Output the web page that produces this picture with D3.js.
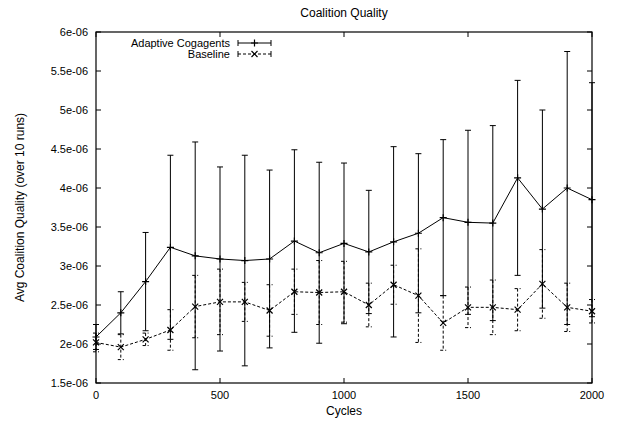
<!DOCTYPE html>
<html>
<head>
<script src="https://cdn.jsdelivr.net/npm/d3@7"></script>
<style>
  body { margin: 0; background: #fff; }
  text { font-family: "Liberation Sans", Arial, sans-serif; fill: #000; }
</style>
</head>
<body>
<svg width="617" height="423"></svg>
<script>
var cycles = [0, 100, 200, 300, 400, 500, 600, 700, 800, 900, 1000,
  1100, 1200, 1300, 1400, 1500, 1600, 1700, 1800, 1900, 2000];

// values in units of 1e-6
var adaptive = [2.09, 2.40, 2.80, 3.24, 3.13, 3.09, 3.07, 3.09, 3.32, 3.17, 3.29,
  3.18, 3.31, 3.42, 3.62, 3.56, 3.55, 4.13, 3.73, 4.00, 3.85];
var adaptiveErr = [0.16, 0.27, 0.63, 1.18, 1.46, 1.18, 1.35, 1.14, 1.17, 1.16, 1.03,
  0.79, 1.22, 1.02, 1.00, 1.18, 1.25, 1.25, 1.27, 1.75, 1.50];
var baseline = [2.02, 1.96, 2.06, 2.18, 2.48, 2.54, 2.54, 2.43, 2.67, 2.66, 2.67,
  2.50, 2.76, 2.62, 2.27, 2.47, 2.47, 2.44, 2.77, 2.47, 2.42];
var baselineErr = [0.12, 0.16, 0.08, 0.26, 0.40, 0.42, 0.25, 0.33, 0.29, 0.41, 0.39,
  0.28, 0.25, 0.60, 0.35, 0.26, 0.35, 0.27, 0.44, 0.31, 0.15];

var xTicks = [0, 500, 1000, 1500, 2000];
var yTicks = [1.5, 2, 2.5, 3, 3.5, 4, 4.5, 5, 5.5, 6];
var yTickLabels = ["1.5e-06", "2e-06", "2.5e-06", "3e-06", "3.5e-06", "4e-06",
  "4.5e-06", "5e-06", "5.5e-06", "6e-06"];

var svg = d3.select("svg");
var margin = {left: 96, right: 25, top: 32, bottom: 40};
var w = 617, h = 423;
var innerWidth = w - margin.left - margin.right;
var innerHeight = h - margin.top - margin.bottom;

var x = d3.scaleLinear().domain([0, 2000]).range([0, innerWidth]);
var y = d3.scaleLinear().domain([1.5, 6]).range([innerHeight, 0]);

var g = svg.append("g").attr("transform", `translate(${margin.left},${margin.top})`);

// ticks on all four sides, pointing inward
var tl = 5;
xTicks.forEach(function(t) {
  g.append("line").attr("x1", x(t)).attr("x2", x(t)).attr("y1", innerHeight).attr("y2", innerHeight - tl).attr("stroke", "#000");
  g.append("line").attr("x1", x(t)).attr("x2", x(t)).attr("y1", 0).attr("y2", tl).attr("stroke", "#000");
  g.append("text").attr("x", x(t)).attr("y", innerHeight + 16)
    .attr("text-anchor", "middle").style("font-size", "11px").text(t);
});
yTicks.forEach(function(t, i) {
  g.append("line").attr("x1", 0).attr("x2", tl).attr("y1", y(t)).attr("y2", y(t)).attr("stroke", "#000");
  g.append("line").attr("x1", innerWidth).attr("x2", innerWidth - tl).attr("y1", y(t)).attr("y2", y(t)).attr("stroke", "#000");
  g.append("text").attr("x", -8).attr("y", y(t) + 4)
    .attr("text-anchor", "end").style("font-size", "11px").text(yTickLabels[i]);
});

g.append("rect").attr("width", innerWidth).attr("height", innerHeight)
  .attr("fill", "none").attr("stroke", "#000").attr("stroke-width", 1.2);

function drawSeries(vals, errs, dash, marker) {
  var pts = cycles.map(function(c, i) { return {c: c, v: vals[i], e: errs[i]}; });
  var eb = g.append("g").attr("stroke", "#000").attr("stroke-width", 1)
    .attr("stroke-dasharray", dash);
  pts.forEach(function(d) {
    var cx = x(d.c), y1 = y(d.v + d.e), y2 = y(d.v - d.e);
    eb.append("line").attr("x1", cx).attr("x2", cx).attr("y1", y1).attr("y2", y2);
    eb.append("line").attr("x1", cx - 3).attr("x2", cx + 3).attr("y1", y1).attr("y2", y1).attr("stroke-dasharray", null);
    eb.append("line").attr("x1", cx - 3).attr("x2", cx + 3).attr("y1", y2).attr("y2", y2).attr("stroke-dasharray", null);
  });
  g.append("path").datum(pts)
    .attr("fill", "none").attr("stroke", "#000").attr("stroke-width", 1)
    .attr("stroke-dasharray", dash)
    .attr("d", d3.line().x(d => x(d.c)).y(d => y(d.v)));
  pts.forEach(function(d) { marker(g, x(d.c), y(d.v)); });
}

function plus(sel, cx, cy) {
  sel.append("path").attr("d", `M${cx - 3.5},${cy}H${cx + 3.5}M${cx},${cy - 3.5}V${cy + 3.5}`)
    .attr("stroke", "#000").attr("stroke-width", 1.2);
}
function cross(sel, cx, cy) {
  sel.append("path").attr("d", `M${cx - 3},${cy - 3}L${cx + 3},${cy + 3}M${cx - 3},${cy + 3}L${cx + 3},${cy - 3}`)
    .attr("stroke", "#000").attr("stroke-width", 1.2);
}

drawSeries(baseline, baselineErr, "3,2", cross);
drawSeries(adaptive, adaptiveErr, null, plus);

// legend
var legend = [
  {name: "Adaptive Cogagents", dash: null, marker: plus},
  {name: "Baseline", dash: "3,2", marker: cross}
];
legend.forEach(function(l, i) {
  var ly = 43 + i * 11;
  svg.append("text").attr("x", 230).attr("y", ly + 4).attr("text-anchor", "end")
    .style("font-size", "11px").text(l.name);
  svg.append("line").attr("x1", 238).attr("x2", 271).attr("y1", ly).attr("y2", ly)
    .attr("stroke", "#000").attr("stroke-dasharray", l.dash);
  svg.append("line").attr("x1", 238).attr("x2", 238).attr("y1", ly - 3).attr("y2", ly + 3).attr("stroke", "#000");
  svg.append("line").attr("x1", 271).attr("x2", 271).attr("y1", ly - 3).attr("y2", ly + 3).attr("stroke", "#000");
  l.marker(svg, 254.5, ly);
});

svg.append("text").attr("x", margin.left + innerWidth / 2).attr("y", 17)
  .attr("text-anchor", "middle").style("font-size", "12px").text("Coalition Quality");
svg.append("text").attr("x", margin.left + innerWidth / 2).attr("y", 415)
  .attr("text-anchor", "middle").style("font-size", "12px").text("Cycles");
svg.append("text").attr("transform", `translate(24,${margin.top + innerHeight / 2}) rotate(-90)`)
  .attr("text-anchor", "middle").style("font-size", "12px").text("Avg Coalition Quality (over 10 runs)");
</script>
</body>
</html>
